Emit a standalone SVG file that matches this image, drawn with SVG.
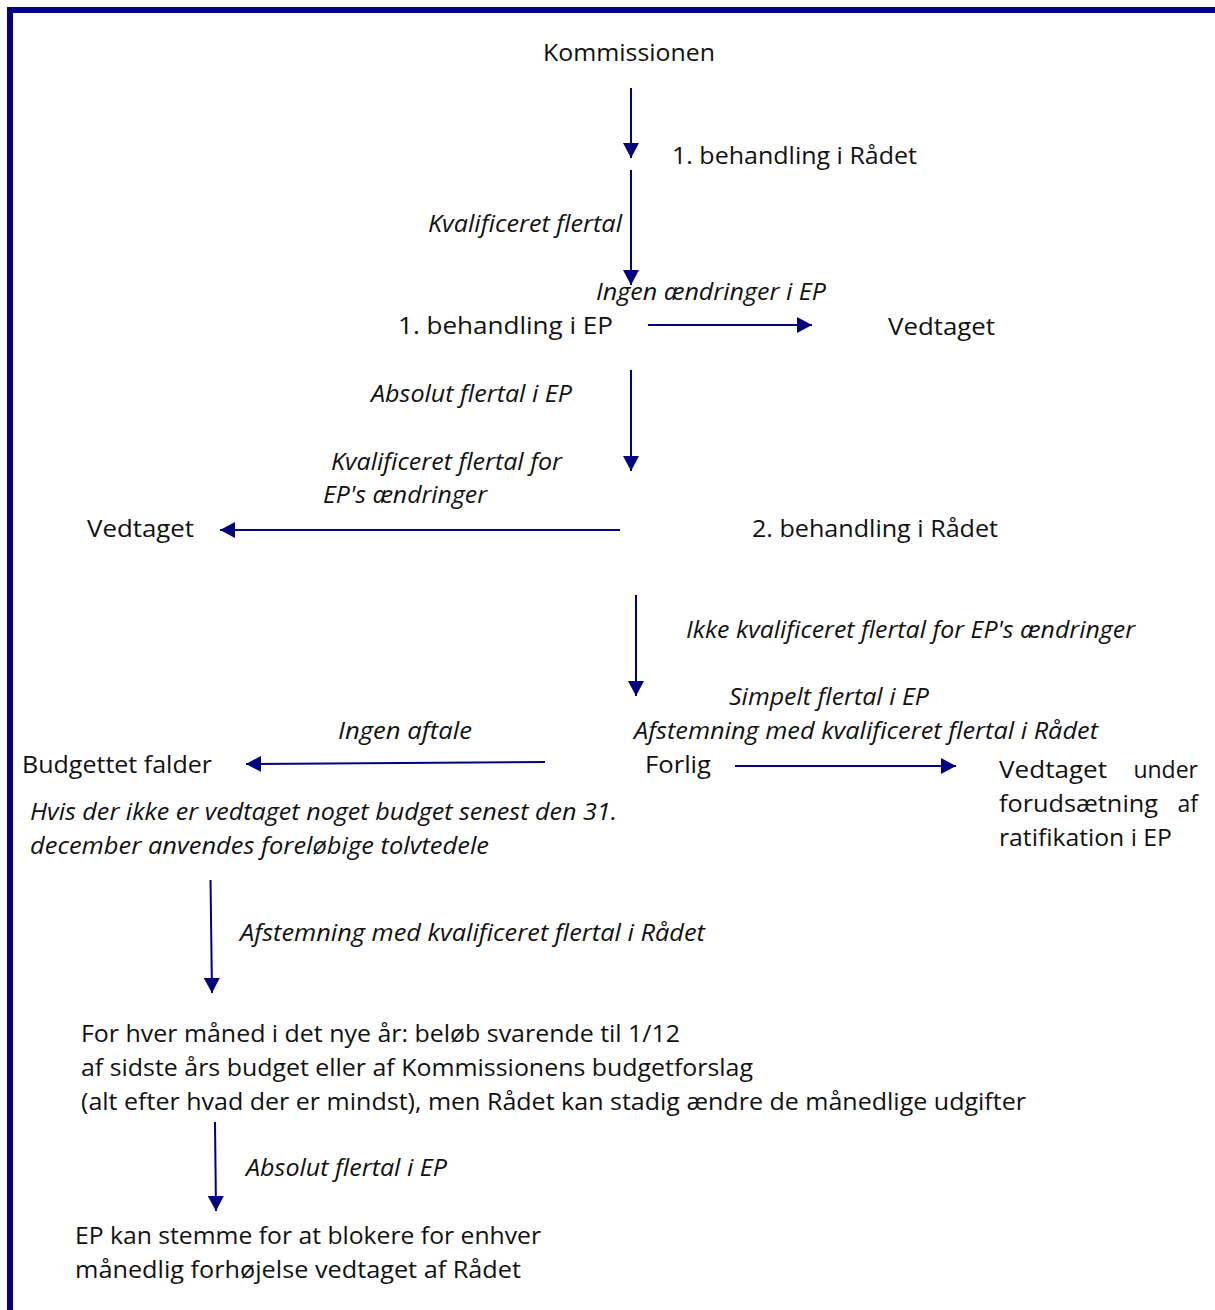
<svg xmlns="http://www.w3.org/2000/svg" width="1215" height="1310" viewBox="0 0 1215 1310">
<style>
text{font-family:"Open Sans","Liberation Sans",sans-serif;font-size:23px;fill:#111;}
.i{font-style:italic;}
.c{stroke:#000080;stroke-width:2;fill:none;marker-end:url(#ah);}
</style>
<defs>
<marker id="ah" markerUnits="userSpaceOnUse" markerWidth="16" markerHeight="16" refX="15" refY="8" orient="auto">
<path d="M0,0 L15,8 L0,16 Z" fill="#000080"/>
</marker>
</defs>
<rect width="1215" height="1310" fill="#fff"/>
<path d="M10,1310 V10 H1215" stroke="#000080" stroke-width="6" fill="none"/>
<g id="connectors">
<line class="c" x1="631" y1="88" x2="631" y2="158"/>
<line class="c" x1="631" y1="170" x2="631" y2="285"/>
<line class="c" x1="648" y1="325" x2="812" y2="325"/>
<line class="c" x1="631" y1="370" x2="631" y2="471"/>
<line class="c" x1="620" y1="530" x2="220" y2="530"/>
<line class="c" x1="636" y1="595" x2="636" y2="696"/>
<line class="c" x1="545" y1="762" x2="246" y2="764"/>
<line class="c" x1="735" y1="766" x2="956" y2="766"/>
<line class="c" x1="210.5" y1="880" x2="212" y2="993"/>
<line class="c" x1="215" y1="1122" x2="216" y2="1211"/>
</g>
<g id="kommissionen"><text x="543" y="61" textLength="172" lengthAdjust="spacingAndGlyphs">Kommissionen</text></g>
<g id="behandling1-raadet"><text x="672" y="164" textLength="245" lengthAdjust="spacingAndGlyphs">1. behandling i Rådet</text></g>
<g id="lbl-kvalificeret"><text class="i" x="428" y="232" textLength="194" lengthAdjust="spacingAndGlyphs">Kvalificeret flertal</text></g>
<g id="lbl-ingen-aendringer"><text class="i" x="596" y="300" textLength="230" lengthAdjust="spacingAndGlyphs">Ingen ændringer i EP</text></g>
<g id="behandling1-ep"><text x="398" y="334" textLength="215" lengthAdjust="spacingAndGlyphs">1. behandling i EP</text></g>
<g id="vedtaget1"><text x="888" y="335" textLength="107" lengthAdjust="spacingAndGlyphs">Vedtaget</text></g>
<g id="lbl-absolut1"><text class="i" x="371" y="402" textLength="201" lengthAdjust="spacingAndGlyphs">Absolut flertal i EP</text></g>
<g id="lbl-kvalificeret-for"><text class="i" x="331" y="470" textLength="231" lengthAdjust="spacingAndGlyphs">Kvalificeret flertal for</text><text class="i" x="323" y="503" textLength="164" lengthAdjust="spacingAndGlyphs">EP's ændringer</text></g>
<g id="vedtaget2"><text x="87" y="537" textLength="107" lengthAdjust="spacingAndGlyphs">Vedtaget</text></g>
<g id="behandling2-raadet"><text x="752" y="537" textLength="246" lengthAdjust="spacingAndGlyphs">2. behandling i Rådet</text></g>
<g id="lbl-ikke-kvalificeret"><text class="i" x="686" y="638" textLength="449" lengthAdjust="spacingAndGlyphs">Ikke kvalificeret flertal for EP's ændringer</text></g>
<g id="lbl-forlig"><text class="i" x="729" y="705" textLength="200" lengthAdjust="spacingAndGlyphs">Simpelt flertal i EP</text><text class="i" x="634" y="739" textLength="464" lengthAdjust="spacingAndGlyphs">Afstemning med kvalificeret flertal i Rådet</text></g>
<g id="lbl-ingen-aftale"><text class="i" x="338" y="739" textLength="134" lengthAdjust="spacingAndGlyphs">Ingen aftale</text></g>
<g id="budgettet-falder"><text x="22" y="773" textLength="190" lengthAdjust="spacingAndGlyphs">Budgettet falder</text></g>
<g id="forlig"><text x="645" y="773" textLength="66" lengthAdjust="spacingAndGlyphs">Forlig</text></g>
<g id="vedtaget-under">
<text x="999" y="778" textLength="108" lengthAdjust="spacingAndGlyphs">Vedtaget</text><text x="1198" y="778" text-anchor="end">under</text>
<text x="999" y="812" textLength="159" lengthAdjust="spacingAndGlyphs">forudsætning</text><text x="1198" y="812" text-anchor="end">af</text>
<text x="999" y="846" textLength="173" lengthAdjust="spacingAndGlyphs">ratifikation i EP</text>
</g>
<g id="note-tolvtedele"><text class="i" x="30" y="820" textLength="587" lengthAdjust="spacingAndGlyphs">Hvis der ikke er vedtaget noget budget senest den 31.</text><text class="i" x="30" y="854" textLength="459" lengthAdjust="spacingAndGlyphs">december anvendes foreløbige tolvtedele</text></g>
<g id="lbl-afstemning2"><text class="i" x="240" y="941" textLength="465" lengthAdjust="spacingAndGlyphs">Afstemning med kvalificeret flertal i Rådet</text></g>
<g id="maanedlig">
<text x="81" y="1042" textLength="599" lengthAdjust="spacingAndGlyphs">For hver måned i det nye år: beløb svarende til 1/12</text>
<text x="81" y="1076" textLength="672" lengthAdjust="spacingAndGlyphs">af sidste års budget eller af Kommissionens budgetforslag</text>
<text x="81" y="1110" textLength="945" lengthAdjust="spacingAndGlyphs">(alt efter hvad der er mindst), men Rådet kan stadig ændre de månedlige udgifter</text>
</g>
<g id="lbl-absolut2"><text class="i" x="246" y="1176" textLength="201" lengthAdjust="spacingAndGlyphs">Absolut flertal i EP</text></g>
<g id="ep-blokere">
<text x="75" y="1244" textLength="466" lengthAdjust="spacingAndGlyphs">EP kan stemme for at blokere for enhver</text>
<text x="75" y="1278" textLength="446" lengthAdjust="spacingAndGlyphs">månedlig forhøjelse vedtaget af Rådet</text>
</g>
</svg>
